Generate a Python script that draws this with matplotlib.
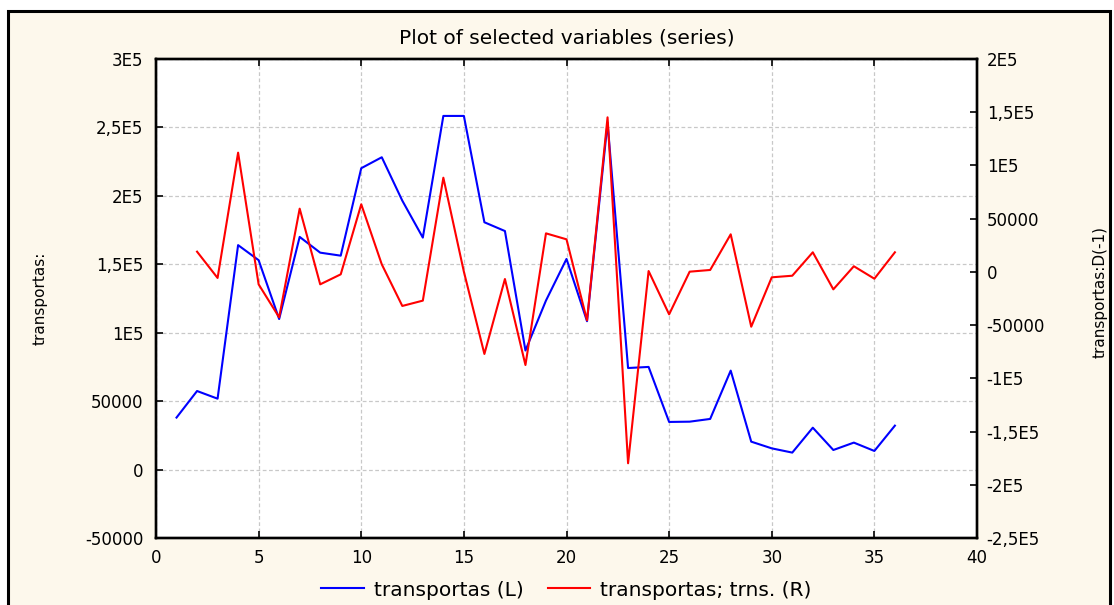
import matplotlib
matplotlib.use("Agg")
import matplotlib.pyplot as plt
from matplotlib.patches import Rectangle
from matplotlib.lines import Line2D

# ---- data ----
t_level = list(range(1, 37))
transportas = [38000, 57400, 51800, 164000, 153000, 110000, 170000, 158500, 156300,
               220200, 228200, 196500, 169500, 258400, 258400, 180700, 174300, 87000,
               123500, 153900, 108400, 253500, 74200, 75000, 34800, 35000, 37000,
               72300, 20400, 15500, 12400, 30600, 14300, 19700, 13600, 32100]
t_diff = list(range(2, 37))
transportas_d1 = [19000, -5700, 112000, -11700, -42700, 59400, -11700, -2300, 63500,
                  7100, -32000, -27000, 88500, 200, -77100, -6700, -87500, 36200,
                  30600, -45500, 145200, -179800, 800, -39900, 200, 1800, 35300,
                  -51500, -5100, -3600, 18400, -16400, 5300, -6400, 18400]

x_ticks = [0, 5, 10, 15, 20, 25, 30, 35, 40]
left_ticks = [300000, 250000, 200000, 150000, 100000, 50000, 0, -50000]
left_labels = ["3E5", "2,5E5", "2E5", "1,5E5", "1E5", "50000", "0", "-50000"]
right_ticks = [200000, 150000, 100000, 50000, 0, -50000, -100000, -150000, -200000, -250000]
right_labels = ["2E5", "1,5E5", "1E5", "50000", "0", "-50000", "-1E5", "-1,5E5", "-2E5", "-2,5E5"]

title = "Plot of selected variables (series)"
left_name = "transportas:"
right_name = "transportas:D(-1)"
legend_labels = ["transportas (L)", "transportas; trns. (R)"]

# ---- figure ----
plt.rcParams['font.family'] = ['DejaVu Sans']
W, H = 1114, 605
fig = plt.figure(figsize=(W / 100, H / 100), dpi=100, facecolor="white")

bg = Rectangle((8 / W, -0.02), (1110 - 8) / W, 1 - 11 / H + 0.02, transform=fig.transFigure,
               facecolor="#fdf8ec", edgecolor="black", linewidth=2.2, zorder=-10)
fig.patches.append(bg)

ax = fig.add_axes([156 / W, 1 - 538 / H, (977 - 156) / W, (538 - 59) / H])
ax.set_facecolor("white")
ax2 = ax.twinx()

ax.plot(t_level, transportas, color="#0000ff", linewidth=1.5, zorder=3)
ax2.plot(t_diff, transportas_d1, color="#ff0000", linewidth=1.5, zorder=3)

ax.set_xlim(0, 40)
ax.set_ylim(-50000, 300000)
ax2.set_ylim(-250000, 200000)

ax.set_xticks(x_ticks)
ax.set_xticklabels([str(v) for v in x_ticks])
ax.set_yticks(left_ticks)
ax.set_yticklabels(left_labels)
ax2.set_yticks(right_ticks)
ax2.set_yticklabels(right_labels)

ax.grid(True, color="#c8c8c8", linestyle=(0, (3, 2)), linewidth=0.9)
ax.set_axisbelow(True)

for a in (ax, ax2):
    for s in a.spines.values():
        s.set_linewidth(1.7)
        s.set_color("black")

ax.tick_params(axis="x", direction="in", top=True, bottom=True, length=5, width=1.2,
               labelsize=12, pad=8)
ax.tick_params(axis="y", direction="in", left=True, right=False, length=5, width=1.2,
               labelsize=12, pad=9)
ax2.tick_params(axis="y", direction="in", right=True, left=False, length=5, width=1.2,
                labelsize=12, pad=7)

fig.text((156 + 977) / 2 / W, 1 - 38 / H, title, ha="center", va="center", fontsize=14.5)
fig.text(40 / W, 1 - 298 / H, left_name, rotation=90, ha="center", va="center", fontsize=11)
fig.text(1100 / W, 1 - 292 / H, right_name, rotation=90, ha="center", va="center", fontsize=11)

handles = [Line2D([], [], color="#0000ff", linewidth=1.5),
           Line2D([], [], color="#ff0000", linewidth=1.5)]
fig.legend(handles, legend_labels, loc="center", bbox_to_anchor=((156 + 977) / 2 / W, 1 - 590 / H),
           ncol=2, frameon=False, fontsize=14.5, handlelength=2.1, handletextpad=0.5,
           columnspacing=1.2)

fig.savefig("out.png", dpi=100, facecolor="white")
